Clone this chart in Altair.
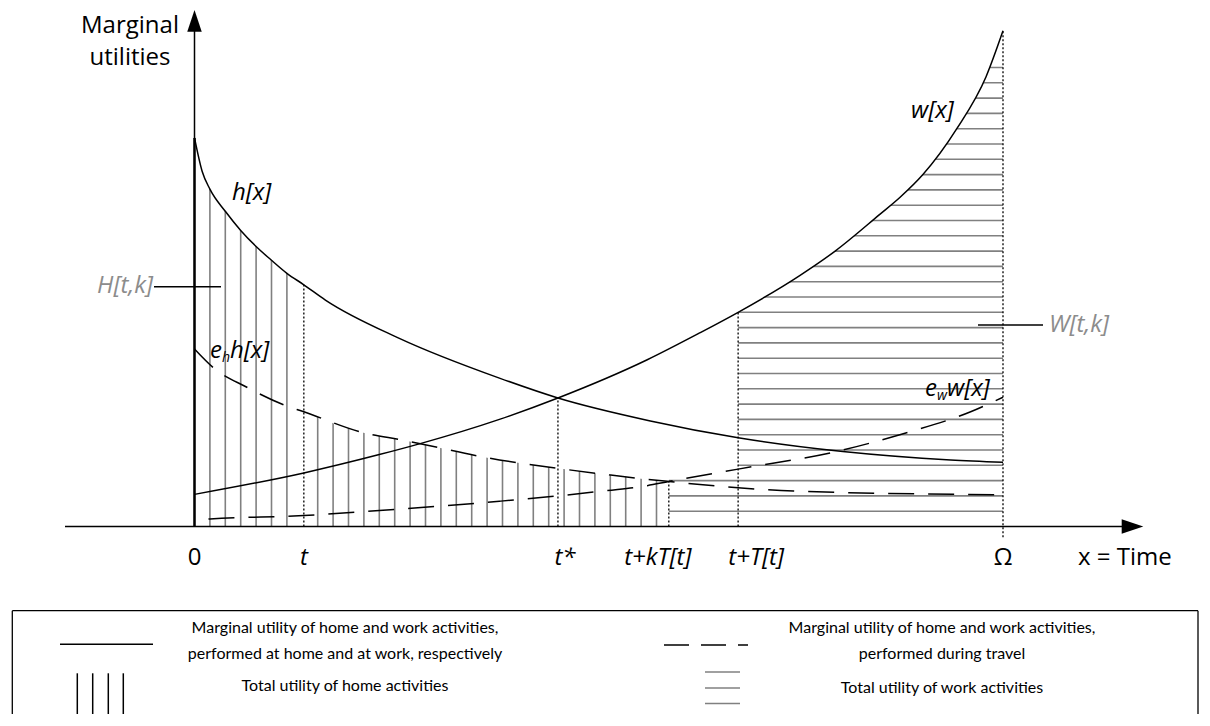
import altair as alt
import pandas as pd

# ---------------- values ----------------
# key instants on the time axis (time units)
key_names = ["0", "t", "t*", "t+kT[t]", "t+T[t]", "Ω"]
key_x = [0.0, 7.1, 23.6, 30.8, 35.3, 52.5]
# dotted guides at t, t*, t+kT[t], t+T[t], Ω
guide_bottom = [0.0, 0.0, 0.0, 0.0, -0.7]
guide_top = [15.8, 8.4, 2.94, 14.0, 32.4]

# h[x] : marginal utility of home activities (at home)
h_x = [0, 0.5, 1, 2, 3, 4, 5, 6, 7.1, 8.5, 13.3, 19.8, 23.6, 29.6, 35.3, 42.1, 49.1, 52.5]
h_y = [25.4, 23.2, 22.05, 20.6, 19.35, 18.3, 17.4, 16.55, 15.8, 14.8, 12.3, 9.7, 8.4, 6.9, 5.8, 4.9, 4.35, 4.2]

# w[x] : marginal utility of work activities (at work)
w_x = [0, 7.1, 12.0, 14.6, 19.8, 23.6, 29.4, 32.8, 35.3, 39.3, 41.6, 44.5, 45.8, 47.3, 49.5, 51.4, 52.5]
w_y = [2.1, 3.5, 4.7, 5.4, 7.0, 8.4, 10.9, 12.65, 14.0, 16.4, 18.0, 20.4, 21.5, 23.0, 26.0, 29.4, 32.4]

# e_h h[x] : home activities performed during travel
eh_x = [0, 1.2, 3.4, 5.8, 7.1, 10.9, 13.5, 19.8, 23.6, 26.7, 29.4, 30.8, 38.9, 52.5]
eh_y = [11.6, 10.4, 9.1, 7.95, 7.5, 6.15, 5.65, 4.35, 3.8, 3.4, 3.08, 2.94, 2.32, 2.07]

# e_w w[x] : work activities performed during travel
ew_x = [0, 1.0, 7.1, 12.0, 19.8, 23.6, 26.7, 29.4, 30.8, 35.3, 41.9, 45.8, 50.4, 52.5]
ew_y = [0.42, 0.49, 0.72, 1.05, 1.65, 2.0, 2.34, 2.67, 2.94, 3.75, 4.95, 6.0, 7.5, 8.45]

# hatching of the two total-utility areas
home_hatch_x = [1, 2, 3, 4, 5, 6] + list(range(8, 31))
work_hatch_y = list(range(1, 31))
work_hatch_from = ["t+kT[t]"] * 3 + ["t+T[t]"] * 27

legend_left = ["Marginal utility of home and work activities,",
               "performed at home and at work, respectively",
               "Total utility of home activities"]
legend_right = ["Marginal utility of home and work activities,",
                "performed during travel",
                "Total utility of work activities"]

# ---------------- layout ----------------
W, H = 1194, 706
X0, SX = 186.5, 15.4
Y0, SY = 518.5, 15.3
GRAY = "#808080"
LGRAY = "#8c8c8c"
FONT = "Open Sans"
LFONT = "Lato"

xscale = alt.Scale(domain=[-X0 / SX, (W - X0) / SX], nice=False, zero=False)
yscale = alt.Scale(domain=[(Y0 - H) / SY, Y0 / SY], nice=False, zero=False)


def ex(f):
    return alt.X(f, type="quantitative", scale=xscale, axis=None)


def ey(f):
    return alt.Y(f, type="quantitative", scale=yscale, axis=None)


def P(v):
    return v - 8


one = pd.DataFrame({"x": [0.0], "y": [0.0]})
layers = []

# ---- hatching ----
home_top = max(h_y)
df_hh = pd.DataFrame({"x": home_hatch_x, "y0": 0.0, "y1": home_top})
layers.append(alt.Chart(df_hh).mark_rule(color=GRAY, strokeWidth=1.6).encode(
    x=ex("x"), y=ey("y0"), y2="y1"))

start_of = dict(zip(key_names, key_x))
df_wh = pd.DataFrame({"y": work_hatch_y,
                      "x0": [start_of[s] for s in work_hatch_from],
                      "x1": key_x[-1]})
layers.append(alt.Chart(df_wh).mark_rule(color=GRAY, strokeWidth=1.6).encode(
    y=ey("y"), x=ex("x0"), x2="x1"))

# ---- white masks cutting the hatching along the curves ----
t_, tkT, tT = key_x[1], key_x[3], key_x[4]
df_h = pd.DataFrame({"x": h_x, "y": h_y})
df_w = pd.DataFrame({"x": w_x, "y": w_y})
df_eh = pd.DataFrame({"x": eh_x, "y": eh_y})
df_ew = pd.DataFrame({"x": ew_x, "y": ew_y})

i1 = int((df_h.x > t_).idxmax())
m1 = df_h.iloc[: i1 + 1].assign(top=home_top + 1)
m2 = df_eh[(df_eh.x >= t_) & (df_eh.x <= tkT)].assign(top=home_top + 1)
i3 = int((df_w.x >= tT).idxmax())
m3 = df_w.iloc[i3 - 1:].assign(top=max(w_y) + 1)
for m in (m1, m2, m3):
    layers.append(alt.Chart(m).mark_area(color="white", opacity=1, interpolate="monotone").encode(
        x=ex("x"), y=ey("y"), y2="top"))

# ---- dotted guides ----
df_g = pd.DataFrame({"x": key_x[1:], "y0": guide_bottom, "y1": guide_top})
layers.append(alt.Chart(df_g).mark_rule(color="black", strokeWidth=1.3, strokeDash=[2, 2]).encode(
    x=ex("x"), y=ey("y0"), y2="y1"))

# ---- curves ----
for d in (df_h, df_w):
    layers.append(alt.Chart(d).mark_line(color="black", strokeWidth=1.5, interpolate="monotone").encode(
        x=ex("x"), y=ey("y")))
layers.append(alt.Chart(df_eh).mark_line(color="black", strokeWidth=1.5, interpolate="monotone",
                                         strokeDash=[26, 14]).encode(x=ex("x"), y=ey("y")))
layers.append(alt.Chart(df_ew).mark_line(color="black", strokeWidth=1.5, interpolate="monotone",
                                         strokeDash=[26, 14], strokeDashOffset=26).encode(
    x=ex("x"), y=ey("y")))

# ---- axes with arrows ----
layers.append(alt.Chart(one).mark_rule(color="black", strokeWidth=1.5).encode(
    x=ex("x"), y=ey("y"), y2=alt.value(P(31))))
# left edge of the home area (thicker, up to h[0])
layers.append(alt.Chart(pd.DataFrame({"x": [0.0], "y0": [0.0], "y1": [h_y[0]]})).mark_rule(
    color="black", strokeWidth=2.4).encode(x=ex("x"), y=ey("y0"), y2="y1"))
layers.append(alt.Chart(one).mark_rule(color="black", strokeWidth=1.5).encode(
    y=ey("y"), x=alt.value(P(65)), x2=alt.value(P(1123))))
layers.append(alt.Chart(one).mark_point(shape="M-0.67,1L0.67,1L0,-1Z", size=467, filled=True,
                                        color="black", opacity=1, strokeWidth=0).encode(
    x=ex("x"), y=alt.value(P(20.9))))
layers.append(alt.Chart(one).mark_point(shape="M-1,-0.67L1,0L-1,0.67Z", size=467, filled=True,
                                        color="black", opacity=1, strokeWidth=0).encode(
    y=ey("y"), x=alt.value(P(1132.5))))


# ---- texts ----
def txt(s, x, y, size=24, style="normal", color="black", align="left", font=FONT):
    return alt.Chart(pd.DataFrame({"s": [s]})).mark_text(
        font=font, fontSize=size, fontStyle=style, color=color, align=align, baseline="middle"
    ).encode(x=alt.value(P(x)), y=alt.value(P(y)), text="s:N")


def seg(x1, x2, y1, y2, color="black", width=1.4, dash=None):
    kw = dict(color=color, strokeWidth=width)
    if dash:
        kw["strokeDash"] = dash
    return alt.Chart(one).mark_rule(**kw).encode(
        x=alt.value(P(x1)), x2=alt.value(P(x2)), y=alt.value(P(y1)), y2=alt.value(P(y2)))


layers += [
    txt("Marginal", 130, 26, align="center"),
    txt("utilities", 130, 57.8, align="center"),
    txt("h[x]", 232, 192.5, style="italic"),
    txt("H[t,k]", 153, 286, style="italic", color=LGRAY, align="right"),
    seg(154, 221, 286.7, 286.7),
    txt("e", 210, 350.5, style="italic"),
    txt("h", 222, 358, size=14, style="italic"),
    txt("h[x]", 230, 350.5, style="italic"),
    txt("w[x]", 911, 111, style="italic"),
    txt("e", 925, 389, style="italic"),
    txt("w", 937, 396, size=14, style="italic"),
    txt("w[x]", 947, 389, style="italic"),
    txt("W[t,k]", 1049, 325, style="italic", color=LGRAY),
    seg(978, 1043, 325, 325),
    txt("x = Time", 1078, 558.3),
]

# tick labels placed with the x scale
tick_dx = [0, 0, 7, -11, 18, 0]
tick_style = ["normal", "italic", "italic", "italic", "italic", "normal"]
for name, xv, dx, st in zip(key_names, key_x, tick_dx, tick_style):
    layers.append(alt.Chart(pd.DataFrame({"s": [name], "x": [xv]})).mark_text(
        font=FONT, fontSize=24, fontStyle=st, color="black", align="center", baseline="middle", dx=dx
    ).encode(x=ex("x"), y=alt.value(P(558.3)), text="s:N"))

# ---- legend box ----
BT, BB, BL, BR = 610.7, 716, 12.3, 1198
layers += [
    seg(BL, BR, BT, BT, width=1.3),
    seg(BL, BL, BT, BB, width=1.3),
    seg(BR, BR, BT, BB, width=1.3),
    seg(60, 153, 644.3, 644.3, width=1.4),
    seg(664, 748, 645, 645, width=1.4, dash=[25, 12]),
]
for vx in (77.3, 92.7, 108.3, 123.3):
    layers.append(seg(vx, vx, 673.3, 718.3, width=1.5))
for hy in (672, 688, 703.5):
    layers.append(seg(705, 740, hy, hy, color=GRAY, width=1.6))
for s, yy in zip(legend_left, (628.3, 654, 686)):
    layers.append(txt(s, 345, yy, size=16, align="center", font=LFONT))
for s, yy in zip(legend_right, (628.3, 654, 687.5)):
    layers.append(txt(s, 942, yy, size=16, align="center", font=LFONT))

chart = alt.layer(*layers).properties(
    width=W, height=H, padding=0, autosize="none"
).configure_view(stroke=None)

chart.save("out.html", embed_options={"renderer": "svg", "actions": False})
